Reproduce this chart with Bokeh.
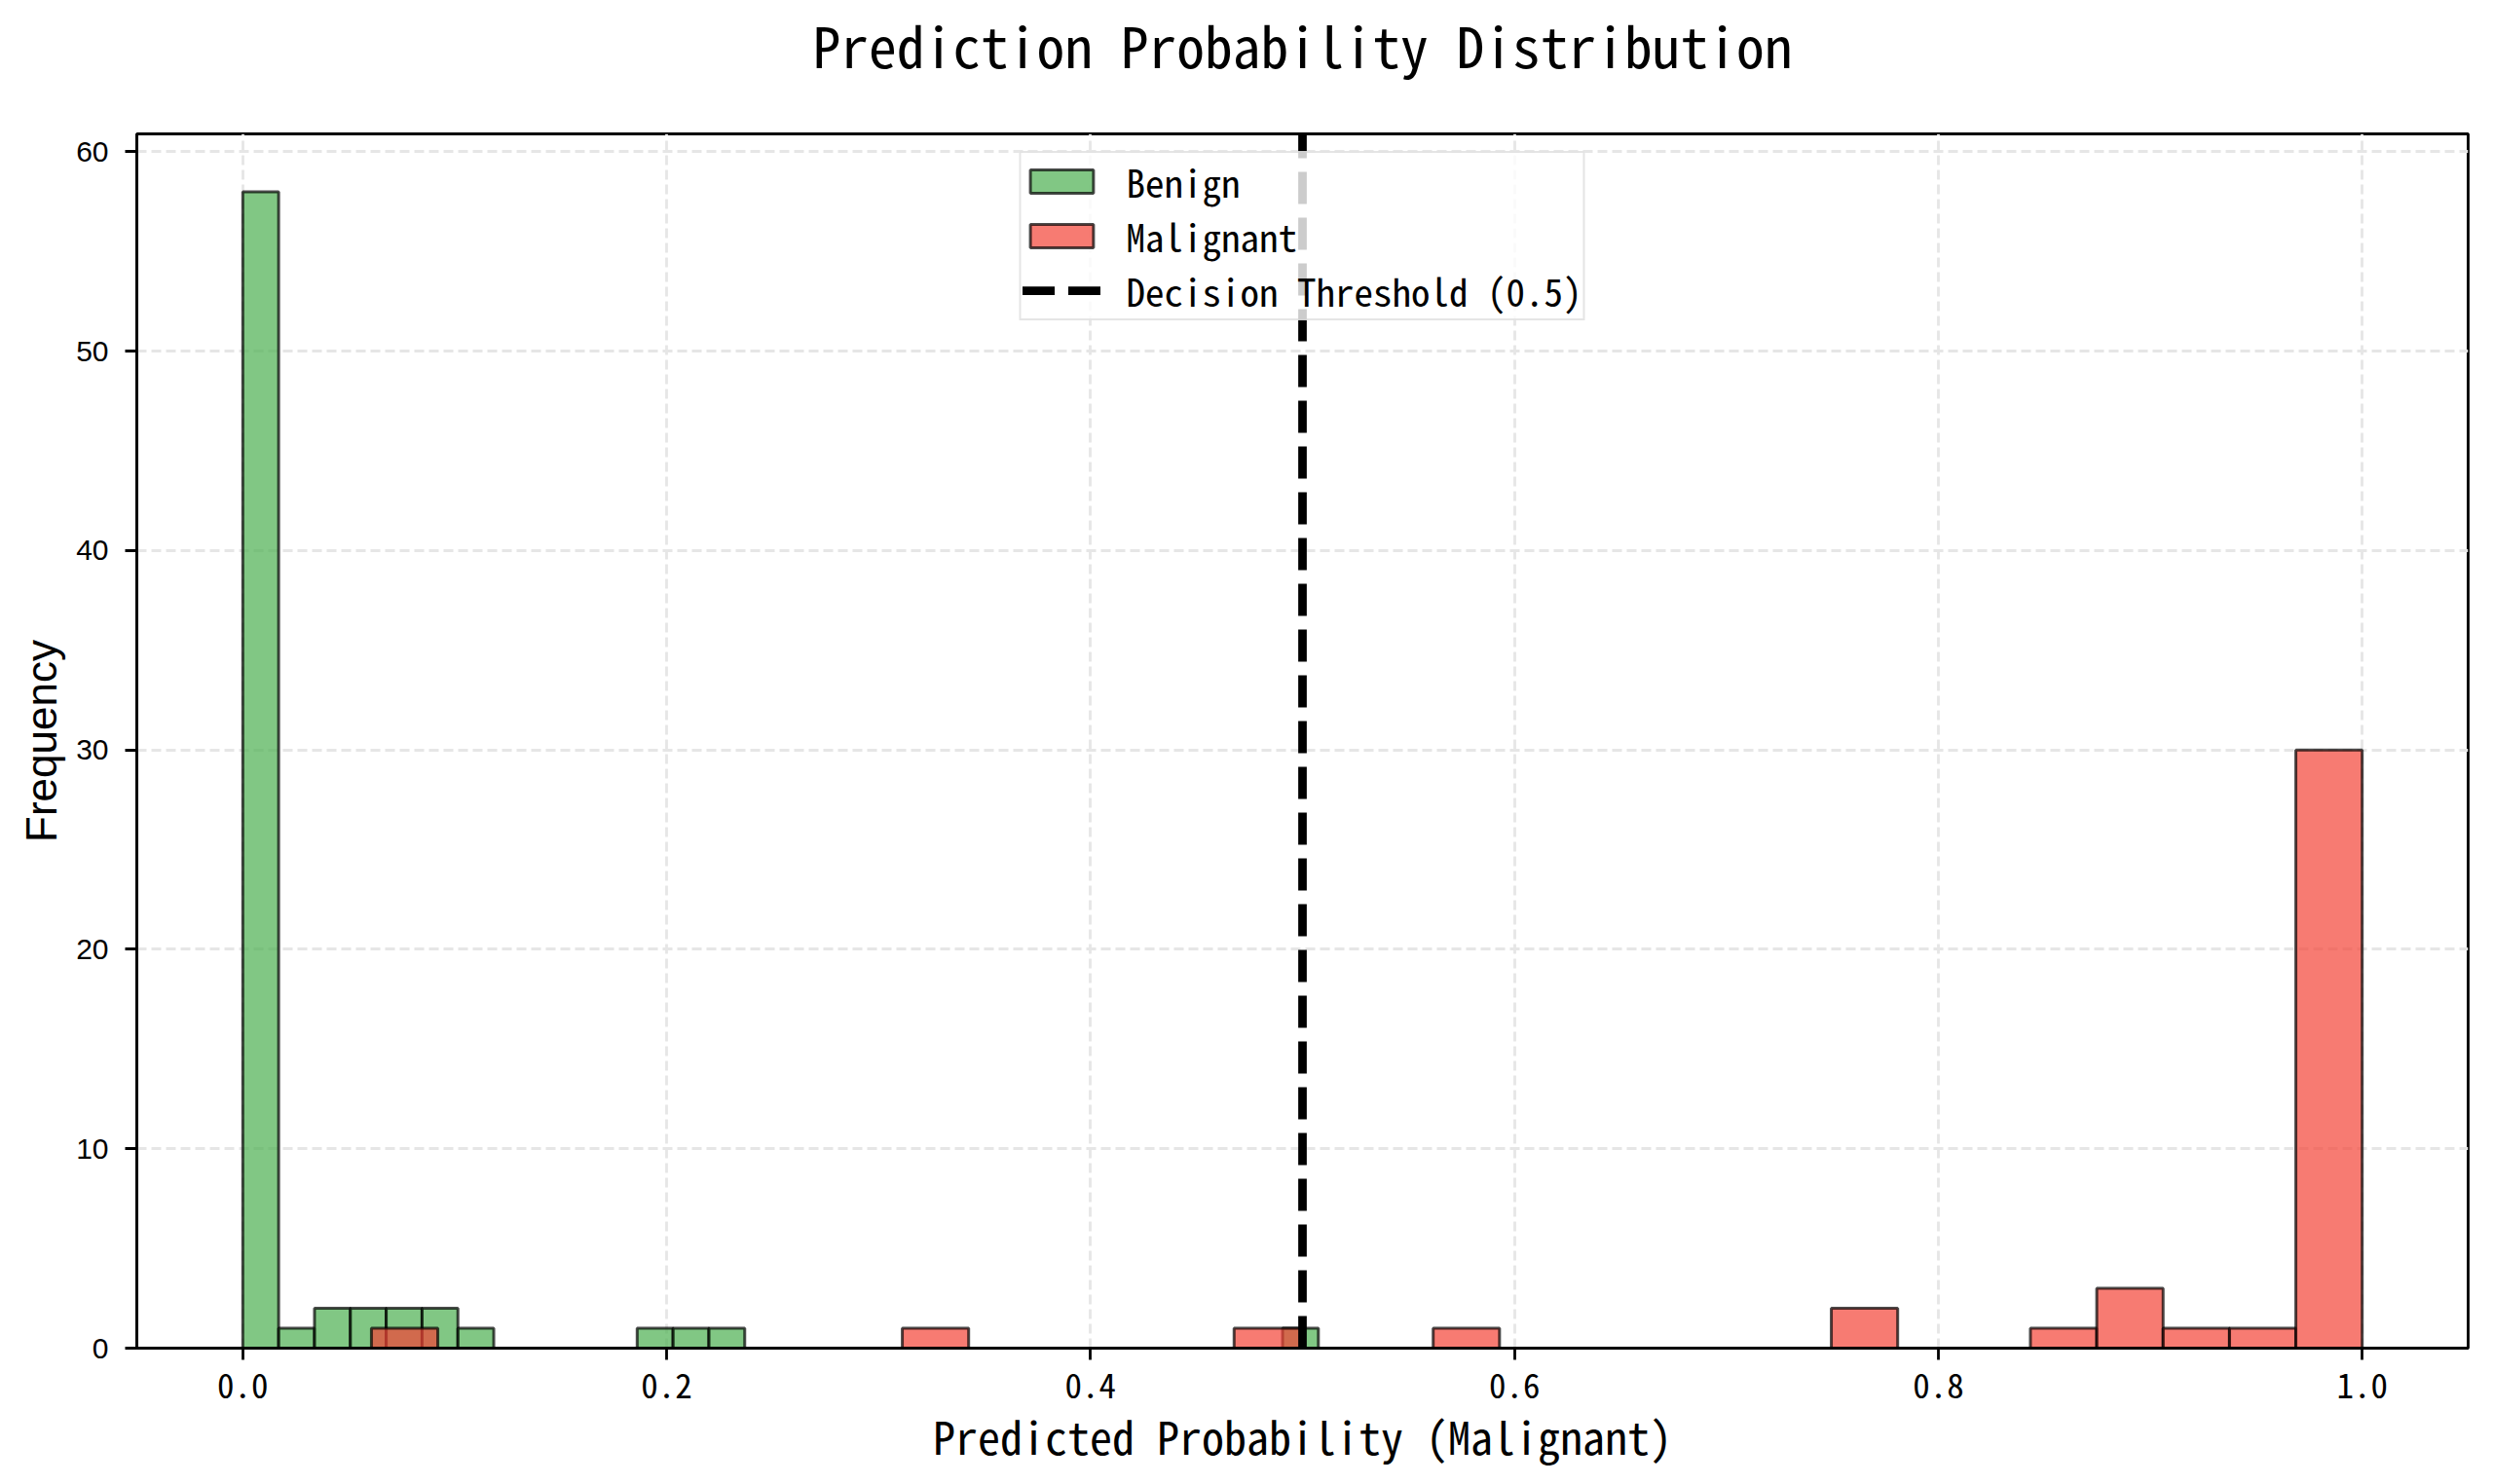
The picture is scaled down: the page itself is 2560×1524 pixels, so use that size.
from bokeh.plotting import figure
from bokeh.models import (Legend, LegendItem, FixedTicker, Title,
                          PrintfTickFormatter, ColumnDataSource)
from bokeh.embed import file_html
from bokeh.resources import INLINE

# ---- data ----
benign_counts = [58, 1, 2, 2, 2, 2, 1, 0, 0, 0, 0, 1, 1, 1, 0,
                 0, 0, 0, 0, 0, 0, 0, 0, 0, 0, 0, 0, 0, 0, 1]
malignant_counts = [1, 0, 0, 0, 0, 0, 0, 0, 1, 0, 0, 0, 0, 1, 0,
                    0, 1, 0, 0, 0, 0, 0, 2, 0, 0, 1, 3, 1, 1, 30]
benign_range = [0.0, 0.5075]
malignant_range = [0.0607, 1.0]
n_bins = 30
threshold = 0.5
x_lim = [-0.05, 1.05]
y_lim = [0.0, 60.9]
x_ticks = [0.0, 0.2, 0.4, 0.6, 0.8, 1.0]
y_ticks = [0, 10, 20, 30, 40, 50, 60]

MONO = "Noto Sans Mono CJK SC"
SANS = "Liberation Sans"


def bin_edges(rng, n):
    w = (rng[1] - rng[0]) / n
    return [rng[0] + i * w for i in range(n + 1)]


be = bin_edges(benign_range, n_bins)
me = bin_edges(malignant_range, n_bins)
src_b = ColumnDataSource(dict(left=be[:-1], right=be[1:], top=benign_counts,
                              bottom=[0] * n_bins))
src_m = ColumnDataSource(dict(left=me[:-1], right=me[1:], top=malignant_counts,
                              bottom=[0] * n_bins))

p = figure(width=2544, height=1524, output_backend="svg", toolbar_location=None,
           x_range=(x_lim[0], x_lim[1]), y_range=(y_lim[0], y_lim[1]),
           min_border_left=140, min_border_right=10,
           min_border_top=137, min_border_bottom=140)

# spacer panel next to the frame, then the title above it
spacer = Title(text=" ", text_font_size="10px", standoff=36)
p.add_layout(spacer, "above")
main_title = Title(text="Prediction Probability Distribution", align="center",
                   vertical_align="top", standoff=0, text_font=MONO,
                   text_font_size="57.5px", text_font_style="normal",
                   text_color="black")
p.add_layout(main_title, "above")

rb = p.quad(left="left", right="right", top="top", bottom="bottom", source=src_b,
            fill_color="#4CAF50", fill_alpha=0.7,
            line_color="black", line_alpha=0.7, line_width=3)
rm = p.quad(left="left", right="right", top="top", bottom="bottom", source=src_m,
            fill_color="#F44336", fill_alpha=0.7,
            line_color="black", line_alpha=0.7, line_width=3)

# threshold line spanning the full y range
rl = p.line(x=[threshold, threshold], y=[y_lim[0], y_lim[1]], line_color="black",
            line_width=8.75, line_dash="33 14")

legend = Legend(items=[LegendItem(label="Benign", renderers=[rb]),
                       LegendItem(label="Malignant", renderers=[rm]),
                       LegendItem(label=f"Decision Threshold ({threshold})", renderers=[rl])],
                location="top_center")
legend.margin = 18
legend.padding = 1
legend.spacing = -7
legend.glyph_width = 81
legend.glyph_height = 30
legend.label_standoff = 26
legend.label_text_font = MONO
legend.label_text_font_size = "39px"
legend.label_text_color = "black"
legend.border_line_color = "#cccccc"
legend.border_line_width = 2.8
legend.background_fill_alpha = 0.8
p.add_layout(legend)

# grid
for g in (p.xgrid, p.ygrid):
    g.grid_line_color = "#e6e6e6"
    g.grid_line_width = 2.8
    g.grid_line_dash = "10 5"

# outline
p.outline_line_color = "black"
p.outline_line_width = 2.8
p.outline_line_alpha = 1.0

# axes
p.xaxis.ticker = FixedTicker(ticks=x_ticks)
p.xaxis.formatter = PrintfTickFormatter(format="%.1f")
p.yaxis.ticker = FixedTicker(ticks=y_ticks)
for ax in (p.xaxis[0], p.yaxis[0]):
    ax.axis_line_width = 2.8
    ax.axis_line_color = "black"
    ax.major_tick_line_width = 2.8
    ax.major_tick_line_color = "black"
    ax.major_tick_out = 12
    ax.major_tick_in = 0
    ax.minor_tick_out = 0
    ax.minor_tick_in = 0
    ax.major_label_text_color = "black"
    ax.axis_label_text_color = "black"
    ax.axis_label_text_font_style = "normal"

p.xaxis.major_label_text_font = MONO
p.xaxis.major_label_text_font_size = "35px"
p.xaxis.major_label_standoff = 13
p.xaxis.axis_label = "Predicted Probability (Malignant)"
p.xaxis.axis_label_text_font = MONO
p.xaxis.axis_label_text_font_size = "46px"
p.xaxis.axis_label_standoff = 2

p.yaxis.major_label_text_font = SANS
p.yaxis.major_label_text_font_size = "30px"
p.yaxis.major_label_standoff = 17
p.yaxis.axis_label = "Frequency"
p.yaxis.axis_label_text_font = SANS
p.yaxis.axis_label_text_font_size = "44px"
p.yaxis.axis_label_standoff = 8

open("out.html", "w").write(file_html(p, INLINE))
